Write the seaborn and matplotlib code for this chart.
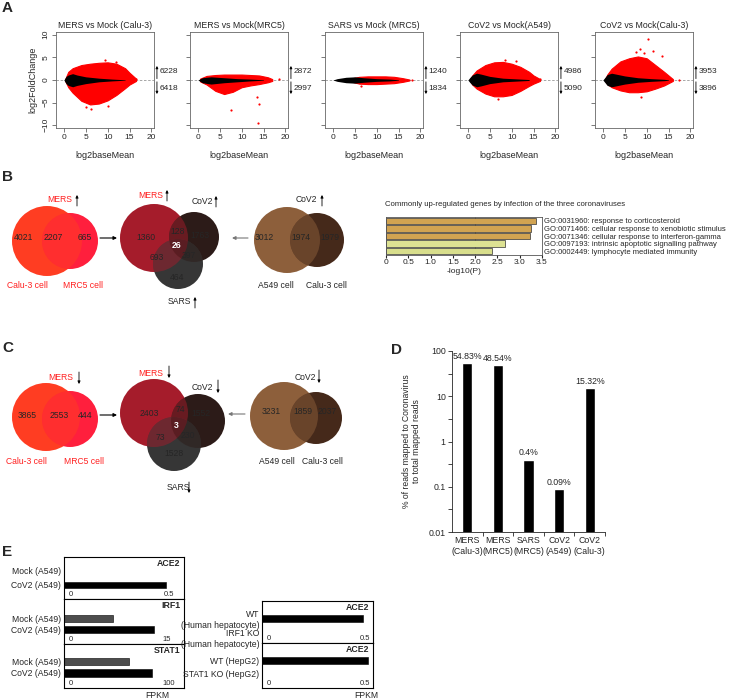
import matplotlib
matplotlib.use("Agg")
import matplotlib.pyplot as plt
from matplotlib.patches import Circle
from matplotlib.ticker import NullFormatter
import seaborn as sns

# ---------------------------------------------------------------------------
# Panel A: MA plots, cloud envelopes (log2baseMean vs LFC)
# ---------------------------------------------------------------------------
ma_titles = ["MERS vs Mock (Calu-3)", "MERS vs Mock(MRC5)", "SARS vs Mock (MRC5)",
             "CoV2 vs Mock(A549)", "CoV2 vs Mock(Calu-3)"]
ma_up = [6228, 2872, 1240, 4986, 3953]
ma_down = [6418, 2997, 1834, 5090, 3896]

mers_calu3_red_x = [0.3, 1, 2, 4, 6, 8, 10, 12, 14, 15, 16.5]
mers_calu3_red_hi = [0.2, 1.8, 2.6, 3.3, 3.6, 3.8, 3.9, 3.6, 2.6, 1.6, 0.3]
mers_calu3_red_lo = [-0.2, -1.6, -2.8, -4.6, -5.4, -5.2, -4.5, -3.3, -1.8, -1.0, -0.2]
mers_calu3_blk_x = [0, 0.5, 1, 2, 3, 5, 8, 11, 14]
mers_calu3_blk_hi = [0, 0.8, 1.1, 1.4, 1.1, 0.7, 0.4, 0.2, 0.05]
mers_calu3_blk_lo = [0, -0.8, -1.2, -1.5, -1.2, -0.8, -0.4, -0.2, -0.05]
mers_calu3_out_x = [9.5, 12.0, 6.2, 10.0, 16.5, 5.0]
mers_calu3_out_y = [4.4, 4.0, -6.3, -5.8, 0.3, -5.9]

mers_mrc5_red_x = [0.5, 2, 4, 6, 8, 10, 12, 14, 16, 17]
mers_mrc5_red_hi = [0.3, 0.9, 1.1, 1.2, 1.2, 1.2, 1.1, 1.0, 0.6, 0.2]
mers_mrc5_red_lo = [-0.3, -1.0, -2.4, -3.1, -2.6, -1.6, -1.2, -0.9, -0.5, -0.2]
mers_mrc5_blk_x = [0, 1, 3, 6, 9, 12, 15]
mers_mrc5_blk_hi = [0, 0.5, 0.7, 0.5, 0.3, 0.2, 0.05]
mers_mrc5_blk_lo = [0, -0.6, -0.9, -0.6, -0.4, -0.2, -0.05]
mers_mrc5_out_x = [7.5, 13.5, 14.0, 13.8, 18.5]
mers_mrc5_out_y = [-6.6, -3.8, -5.2, -9.6, 0.2]

sars_mrc5_red_x = [4, 6, 8, 10, 12, 14, 16, 17.5]
sars_mrc5_red_hi = [0.3, 0.7, 0.8, 0.8, 0.8, 0.7, 0.4, 0.1]
sars_mrc5_red_lo = [-0.3, -0.8, -0.9, -0.9, -0.8, -0.7, -0.4, -0.1]
sars_mrc5_blk_x = [0, 1, 3, 5, 7, 10, 13, 15]
sars_mrc5_blk_hi = [0, 0.3, 0.6, 0.7, 0.5, 0.3, 0.2, 0.05]
sars_mrc5_blk_lo = [0, -0.3, -0.6, -0.7, -0.5, -0.3, -0.2, -0.05]
sars_mrc5_out_x = [18.0, 6.5]
sars_mrc5_out_y = [0.1, -1.3]

cov2_a549_red_x = [0.5, 1, 2, 4, 6, 8, 10, 12, 14, 15, 16.5]
cov2_a549_red_hi = [0.2, 1.0, 2.1, 3.3, 3.9, 4.0, 3.6, 2.9, 1.8, 1.0, 0.2]
cov2_a549_red_lo = [-0.2, -1.0, -1.9, -3.0, -3.6, -3.6, -3.3, -2.4, -1.3, -0.8, -0.2]
cov2_a549_blk_x = [0, 0.5, 1, 2, 3, 5, 8, 11, 14]
cov2_a549_blk_hi = [0, 0.6, 1.1, 1.5, 1.3, 0.8, 0.4, 0.25, 0.1]
cov2_a549_blk_lo = [0, -0.6, -1.1, -1.5, -1.3, -0.8, -0.4, -0.25, -0.1]
cov2_a549_out_x = [8.5, 11.0, 7.0, 16.5]
cov2_a549_out_y = [4.5, 4.2, -4.2, 0.2]

cov2_calu3_red_x = [0.5, 1, 2, 4, 6, 8, 10, 12, 14, 15, 16]
cov2_calu3_red_hi = [0.2, 1.2, 2.5, 4.1, 4.8, 5.2, 4.8, 3.3, 1.8, 1.0, 0.2]
cov2_calu3_red_lo = [-0.2, -0.9, -1.6, -2.3, -2.7, -2.7, -2.5, -1.9, -1.2, -0.7, -0.2]
cov2_calu3_blk_x = [0, 0.5, 1, 2, 3, 5, 8, 11, 14, 15]
cov2_calu3_blk_hi = [0, 0.6, 1.2, 1.5, 1.3, 0.9, 0.5, 0.3, 0.15, 0.05]
cov2_calu3_blk_lo = [0, -0.6, -1.2, -1.5, -1.3, -0.9, -0.5, -0.3, -0.15, -0.05]
cov2_calu3_out_x = [10.2, 8.5, 9.5, 13.5, 8.7, 17.3, 11.5, 7.5]
cov2_calu3_out_y = [9.0, 6.8, 6.0, 5.2, -3.8, 0.1, 6.5, 6.2]

# ---------------------------------------------------------------------------
# Panels B / C: Venn counts
# ---------------------------------------------------------------------------
b_mers_cells = [4021, 2207, 665]
b_three_virus = [1360, 128, 1763, 26, 693, 397, 464]
b_cov2_cells = [3012, 1974, 1979]
c_mers_cells = [3865, 2553, 444]
c_three_virus = [2403, 74, 1552, 3, 73, 230, 1528]
c_cov2_cells = [3231, 1859, 2037]

go_terms = ["GO:0031960: response to corticosteroid",
            "GO:0071466: cellular response to xenobiotic stimulus",
            "GO:0071346: cellular response to interferon-gamma",
            "GO:0097193: intrinsic apoptotic signalling pathway",
            "GO:0002449: lymphocyte mediated immunity"]
go_logp = [3.37, 3.26, 3.24, 2.66, 2.38]
go_colors = ["#e6a93c", "#e6a93c", "#e6a93c", "#e9ef86", "#e4ec7e"]

# ---------------------------------------------------------------------------
# Panel D: % reads mapped to coronavirus
# ---------------------------------------------------------------------------
d_samples = ["MERS\n(Calu-3)", "MERS\n(MRC5)", "SARS\n(MRC5)", "CoV2\n(A549)", "CoV2\n(Calu-3)"]
d_percent = [54.83, 48.54, 0.4, 0.09, 15.32]

# ---------------------------------------------------------------------------
# Panel E: FPKM
# ---------------------------------------------------------------------------
e_left_rows = ["Mock (A549)", "CoV2 (A549)"]
e_left_genes = ["ACE2", "IRF1", "STAT1"]
e_left_ace2 = [0.0, 0.485]
e_left_irf1 = [7.1, 13.1]
e_left_stat1 = [62, 84]
e_left_axis_max = ["0.5", "15", "100"]
e_right_rows_irf1 = ["WT\n(Human hepatocyte)", "IRF1 KO\n(Human hepatocyte)"]
e_right_ace2_irf1 = [0.49, 0.0]
e_right_rows_stat1 = ["WT (HepG2)", "STAT1 KO (HepG2)"]
e_right_ace2_stat1 = [0.516, 0.0]
e_right_axis_max = ["0.5", "0.5"]

W, H = 738, 699
sns.set_style("ticks")
plt.rcParams["font.family"] = ["Liberation Sans", "DejaVu Sans"]
plt.rcParams["axes.linewidth"] = 0.6

fig = plt.figure(figsize=(W / 100, H / 100), dpi=100)


def px_axes(x0, y0, x1, y1):
    return fig.add_axes([x0 / W, 1 - y1 / H, (x1 - x0) / W, (y1 - y0) / H])


over = px_axes(0, 0, W, H)
over.set_xlim(0, W)
over.set_ylim(H, 0)
over.axis("off")


def txt(x, y, s, size=6.2, **kw):
    kw.setdefault("ha", "center")
    kw.setdefault("va", "center")
    over.text(x, y, s, fontsize=size, **kw)


def varrow(x, y0, y1, color="k"):
    over.annotate("", xy=(x, y1), xytext=(x, y0),
                  arrowprops=dict(arrowstyle="-|>", lw=0.6, color=color,
                                  mutation_scale=4, shrinkA=0, shrinkB=0))


def harrow(x0, x1, y, color="k"):
    over.annotate("", xy=(x1, y), xytext=(x0, y),
                  arrowprops=dict(arrowstyle="-|>", lw=0.8, color=color,
                                  mutation_scale=5, shrinkA=0, shrinkB=0))


def venn(circles, colors):
    patches = []
    for (cx, cy, r), c in zip(circles, colors):
        p = Circle((cx, cy), r, facecolor=c, lw=0)
        over.add_patch(p)
        patches.append(p)
    # blend overlaps
    for i, (cx, cy, r) in enumerate(circles):
        for j in range(i + 1, len(circles)):
            q = Circle((cx, cy), r, facecolor=colors[i], alpha=0.5, lw=0)
            over.add_patch(q)
            q.set_clip_path(patches[j])


# ---- panel letters ----
for letter, x, y in [("A", 2, 8), ("B", 2, 177), ("C", 2, 348), ("D", 391, 350), ("E", 2, 552)]:
    txt(x, y, letter, size=11, fontweight="bold", ha="left")

# ---- panel A ----
ma_data = [
    (mers_calu3_red_x, mers_calu3_red_hi, mers_calu3_red_lo, mers_calu3_blk_x,
     mers_calu3_blk_hi, mers_calu3_blk_lo, mers_calu3_out_x, mers_calu3_out_y),
    (mers_mrc5_red_x, mers_mrc5_red_hi, mers_mrc5_red_lo, mers_mrc5_blk_x,
     mers_mrc5_blk_hi, mers_mrc5_blk_lo, mers_mrc5_out_x, mers_mrc5_out_y),
    (sars_mrc5_red_x, sars_mrc5_red_hi, sars_mrc5_red_lo, sars_mrc5_blk_x,
     sars_mrc5_blk_hi, sars_mrc5_blk_lo, sars_mrc5_out_x, sars_mrc5_out_y),
    (cov2_a549_red_x, cov2_a549_red_hi, cov2_a549_red_lo, cov2_a549_blk_x,
     cov2_a549_blk_hi, cov2_a549_blk_lo, cov2_a549_out_x, cov2_a549_out_y),
    (cov2_calu3_red_x, cov2_calu3_red_hi, cov2_calu3_red_lo, cov2_calu3_blk_x,
     cov2_calu3_blk_hi, cov2_calu3_blk_lo, cov2_calu3_out_x, cov2_calu3_out_y),
]
ma_left = [56, 190, 325, 460, 595]
for k, (rx, rhi, rlo, bx, bhi, blo, ox, oy) in enumerate(ma_data):
    ax = px_axes(ma_left[k], 32, ma_left[k] + 98, 128)
    ax.axhline(0, color="#999999", lw=0.6, ls=(0, (3, 2)), zorder=0)
    ax.fill_between(rx, rlo, rhi, facecolor="red", edgecolor="red", lw=0.8)
    sns.scatterplot(x=ox, y=oy, color="red", s=2.5, linewidth=0, ax=ax)
    ax.fill_between(bx, blo, bhi, facecolor="black", lw=0)
    ax.set_xlim(-1.8, 20.6)
    ax.set_ylim(-10.6, 10.6)
    ax.set_xticks([0, 5, 10, 15, 20])
    ax.set_yticks([-10, -5, 0, 5, 10])
    ax.tick_params(labelsize=6, length=3, width=0.5, pad=1.5, color="#444")
    for s in ax.spines.values():
        s.set_color("#666666")
    if k == 0:
        ax.set_yticks([-10, -5, 0, 5, 10], ["\u221210", "\u22125", "0", "5", "10"],
                      rotation=90, va="center")
        ax.set_ylabel("log2FoldChange", fontsize=6.5)
        ax.yaxis.set_label_coords(-0.19, 0.5)
    else:
        ax.set_yticklabels([])
    ax.set_xlabel("log2baseMean", fontsize=6.5)
    ax.xaxis.set_label_coords(0.5, -0.24)
    ax.set_title(ma_titles[k], fontsize=6.3, pad=3)
    arr = dict(arrowstyle="-|>", lw=0.6, color="k", mutation_scale=3.5, shrinkA=0, shrinkB=0)
    ax.annotate("", xy=(1.03, 3.1), xytext=(1.03, 0.3), xycoords=("axes fraction", "data"),
                arrowprops=arr, annotation_clip=False)
    ax.annotate("", xy=(1.03, -3.1), xytext=(1.03, -0.4), xycoords=("axes fraction", "data"),
                arrowprops=arr, annotation_clip=False)
    ax.text(1.055, 1.8, str(ma_up[k]), fontsize=6, va="center", ha="left",
            transform=ax.get_yaxis_transform())
    ax.text(1.055, -1.8, str(ma_down[k]), fontsize=6, va="center", ha="left",
            transform=ax.get_yaxis_transform())

# ---- panel B / C venns ----
red_a, red_b = "#ff3d22", "#ff1f3d"
mers_c, cov2_c, sars_c = "#a51c2b", "#2c1b18", "#363636"
a549_c, calu_c = "#8d5f3b", "#45291a"
txt_red = "#ff2020"

# panel B (up-regulated)
venn([(47, 241, 35), (70, 241, 28)], [red_a, red_b])
for v, x in zip(b_mers_cells, [23, 53, 85]):
    txt(x, 238, v)
txt(60, 200, "MERS", color=txt_red)
varrow(77, 206, 195)
txt(27, 286, "Calu-3 cell", color=txt_red)
txt(83, 286, "MRC5 cell", color=txt_red)
harrow(100, 117, 238)

venn([(154, 238, 34), (194, 237, 25), (178, 264, 25)], [mers_c, cov2_c, sars_c])
pos = [(146, 237), (178, 232), (200, 236), (176.5, 245), (157, 258), (189, 255), (177, 278)]
for i, (v, (x, y)) in enumerate(zip(b_three_virus, pos)):
    if i == 3:
        txt(x, y, v, color="white", fontweight="bold")
    else:
        txt(x, y, v)
txt(151, 195, "MERS", color=txt_red)
varrow(167, 201, 190)
txt(202, 201, "CoV2")
varrow(216, 207, 196)
txt(179, 302, "SARS")
varrow(195, 308, 297)
harrow(248, 232, 238, color="#777777")

venn([(287, 240, 33), (317, 240, 27)], [a549_c, calu_c])
for v, x in zip(b_cov2_cells, [264, 301, 330]):
    txt(x, 238, v)
txt(306, 200, "CoV2")
varrow(322, 206, 195)
txt(276, 286, "A549 cell")
txt(326, 286, "Calu-3 cell")

# panel C (down-regulated)
venn([(46, 417, 34), (70, 419, 28)], [red_a, red_b])
for v, x in zip(c_mers_cells, [27, 59, 85]):
    txt(x, 415, v)
txt(61, 377, "MERS", color=txt_red)
varrow(79, 372, 384)
txt(26, 462, "Calu-3 cell", color=txt_red)
txt(84, 462, "MRC5 cell", color=txt_red)
harrow(100, 117, 415)

venn([(154, 413, 34), (198, 421, 27), (174, 444, 27)], [mers_c, cov2_c, sars_c])
pos = [(149, 413), (180, 410), (201, 413), (176.5, 426), (160, 437), (188, 436), (174, 453)]
for i, (v, (x, y)) in enumerate(zip(c_three_virus, pos)):
    if i == 3:
        txt(x, y, v, color="white", fontweight="bold")
    else:
        txt(x, y, v)
txt(151, 373, "MERS", color=txt_red)
varrow(169, 366, 378)
txt(202, 387, "CoV2")
varrow(218, 380, 393)
txt(178, 488, "SARS")
varrow(189, 482, 493)
harrow(245, 228, 414, color="#777777")

venn([(284, 416, 34), (316, 418, 26)], [a549_c, calu_c])
for v, x in zip(c_cov2_cells, [271, 303, 327]):
    txt(x, 412, v)
txt(305, 377, "CoV2")
varrow(319, 370, 383)
txt(277, 461, "A549 cell")
txt(322, 461, "Calu-3 cell")

# ---- panel B: GO enrichment bars ----
txt(385, 205, "Commonly up-regulated genes by infection of the three coronaviruses",
    size=5.6, ha="left")
ax = px_axes(386, 217, 542, 255)
sns.barplot(x=go_logp, y=go_terms, hue=go_terms, palette=go_colors, legend=False,
            orient="h", width=0.82, edgecolor="#333333", linewidth=0.5, ax=ax)
ax.axvline(2.0, color="#888888", lw=0.6, zorder=0)
ax.set_xlim(0, 3.5)
ax.set_xticks([0, 0.5, 1, 1.5, 2, 2.5, 3, 3.5],
              ["0", "0.5", "1.0", "1.5", "2.0", "2.5", "3.0", "3.5"])
ax.yaxis.tick_right()
ax.tick_params(axis="y", length=0, pad=1.5, labelsize=5.5)
ax.tick_params(axis="x", length=2, pad=1, labelsize=6)
ax.set_xlabel("-log10(P)", fontsize=6, labelpad=1)
ax.set_ylabel("")
for s in ax.spines.values():
    s.set_color("#555555")

# ---- panel D ----
ax = px_axes(452, 351, 605, 532)
ax.set_yscale("log")
sns.barplot(x=d_samples, y=d_percent, color="black", width=0.33, ax=ax)
ax.set_ylim(0.01, 100)
ax.set_xlim(-0.5, 4.5)
ax.set_yticks([0.01, 0.1, 1, 10, 100], ["0.01", "0.1", "1", "10", "100"])
ax.set_yticks([10 ** -1.5, 10 ** -0.5, 10 ** 0.5, 10 ** 1.5], minor=True)
ax.yaxis.set_minor_formatter(NullFormatter())
ax.set_xticks(range(len(d_samples)), d_samples)
ax.set_xticks([0.5, 1.5, 2.5, 3.5, 4.5], minor=True)
ax.tick_params(axis="x", which="major", length=0, pad=3, labelsize=6.3)
ax.tick_params(axis="x", which="minor", length=3, width=0.6)
ax.tick_params(axis="y", which="both", length=3, width=0.6, labelsize=6.3, pad=1.5)
sns.despine(ax=ax)
for i, v in enumerate(d_percent):
    ax.text(i, v * 1.12, f"{v}%", ha="center", va="bottom", fontsize=6.3)
ax.set_ylabel("% of reads mapped to Coronavirus\nto total mapped reads", fontsize=6.2)
ax.yaxis.set_label_coords(-0.2, 0.5)
ax.set_xlabel("")


# ---- panel E ----
def fpkm_panel(box, rows, vals, colors, gene, max_label, xmax, ylim, width):
    ax = px_axes(*box)
    sns.barplot(x=vals, y=rows, hue=rows, palette=colors, legend=False, orient="h",
                width=width, edgecolor="black", linewidth=0.4, ax=ax)
    ax.set_xlim(0, xmax)
    ax.set_ylim(*ylim)
    ax.set_xticks([])
    ax.tick_params(axis="y", length=0, pad=2, labelsize=6.2)
    ax.set_xlabel("")
    ax.set_ylabel("")
    for s in ax.spines.values():
        s.set_color("black")
        s.set_linewidth(0.8)
    ax.text(0.97, 0.95, gene, transform=ax.transAxes, ha="right", va="top",
            fontsize=6.3, fontweight="bold")
    ax.text(0.04, 0.03, "0", transform=ax.transAxes, ha="left", va="bottom", fontsize=5.5)
    ax.text(float(max_label), 0.03, max_label, transform=ax.get_xaxis_transform(),
            ha="center", va="bottom", fontsize=5.5)
    for lab in ax.get_yticklabels():
        lab.set_multialignment("right")
    return ax


grey = "#4d4d4d"
fpkm_panel((64, 557, 184, 599), e_left_rows, e_left_ace2, [grey, "black"], e_left_genes[0],
           e_left_axis_max[0], 0.57, (2.0, -1.0), 0.45)
fpkm_panel((64, 599, 184, 644), e_left_rows, e_left_irf1, [grey, "black"], e_left_genes[1],
           e_left_axis_max[1], 17.5, (2.4, -1.85), 0.67)
fpkm_panel((64, 644, 184, 688), e_left_rows, e_left_stat1, [grey, "black"], e_left_genes[2],
           e_left_axis_max[2], 115, (2.33, -1.57), 0.65)
fpkm_panel((262, 601, 373, 643), e_right_rows_irf1, e_right_ace2_irf1, ["black", "black"],
           "ACE2", e_right_axis_max[0], 0.54, (1.3, -0.9), 0.38)
fpkm_panel((262, 643, 373, 688), e_right_rows_stat1, e_right_ace2_stat1, ["black", "black"],
           "ACE2", e_right_axis_max[1], 0.54, (2.2, -1.44), 0.56)
txt(157, 695, "FPKM", size=6.2)
txt(366, 695, "FPKM", size=6.2)

fig.savefig("out.png", dpi=100)
